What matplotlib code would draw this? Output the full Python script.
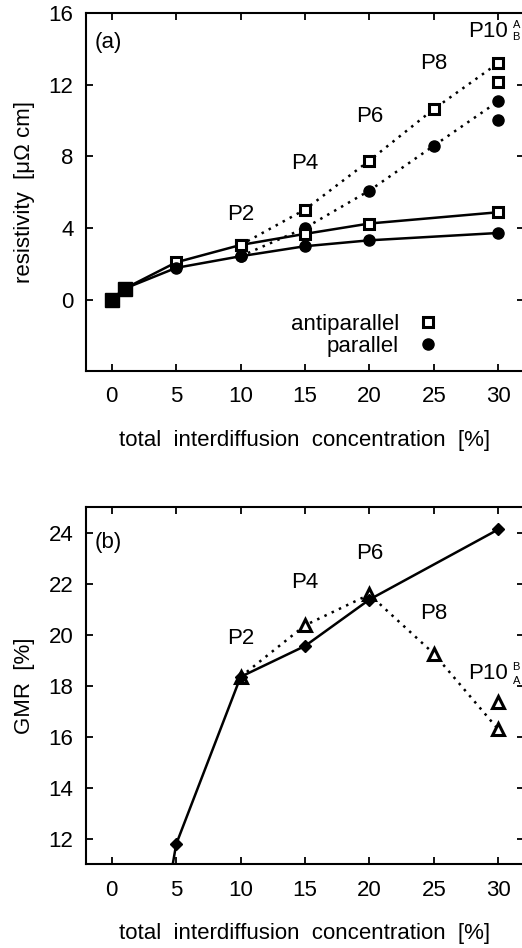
import matplotlib
matplotlib.use('Agg')
import matplotlib.pyplot as plt
from matplotlib.lines import Line2D

plt.rcParams['font.family'] = ['Liberation Sans', 'DejaVu Sans']
plt.rcParams['font.size'] = 16

# (a) resistivity vs total interdiffusion concentration
conc = [0, 1, 5, 10, 15, 20, 30]
rho_ap = [0, 0.61, 2.08, 3.05, 3.67, 4.25, 4.88]
rho_p = [0, 0.61, 1.77, 2.42, 2.98, 3.31, 3.72]

conc_pn = [10, 15, 20, 25, 30]
rho_ap_pn = [3.05, 5.03, 7.77, 10.65, 13.22]
rho_p_pn = [2.42, 4.00, 6.09, 8.60, 11.08]
rho_ap_p10b = 12.15
rho_p_p10b = 10.02

labels_pn = ['P2', 'P4', 'P6', 'P8']
label_y_a = [4.78, 7.58, 10.26, 13.2]

# (b) GMR
conc_gmr = [1, 5, 10, 15, 20, 30]
gmr = [0, 11.79, 18.35, 19.56, 21.38, 24.13]
gmr_pn = [18.35, 20.37, 21.58, 19.26, 16.29]
gmr_p10b = 17.35
label_y_b = [19.85, 22.06, 23.17, 20.83]

xlabel = 'total  interdiffusion  concentration  [%]'
dot = (0, (1, 2.2))


def style_axes(ax):
    for s in ax.spines.values():
        s.set_linewidth(1.5)
    ax.tick_params(direction='in', top=True, right=True, length=5, width=1.3,
                   labelsize=16)
    ax.tick_params(axis='x', pad=11)
    ax.tick_params(axis='y', pad=9)
    ax.set_xlim(-2, 32)
    ax.set_xticks([0, 5, 10, 15, 20, 25, 30])
    ax.set_xlabel(xlabel, labelpad=16)


fig = plt.figure(figsize=(5.22, 9.48), dpi=100)

# ---- panel (a)
ax1 = fig.add_axes([0.1648, 0.6086, 0.839, 0.3773])
style_axes(ax1)
ax1.set_ylim(-4, 16)
ax1.set_yticks([0, 4, 8, 12, 16])
ax1.set_ylabel('resistivity  [μΩ cm]', labelpad=10)

ax1.plot(conc_pn, rho_ap_pn, color='k', ls=dot, lw=1.8, marker='s', ms=7.5,
         mfc='white', mec='k', mew=2.2)
ax1.plot(conc_pn, rho_p_pn, color='k', ls=dot, lw=1.8, marker='o', ms=8,
         mfc='k', mec='k')
ax1.plot(conc, rho_ap, color='k', lw=1.8, marker='s', ms=7.5, mfc='white',
         mec='k', mew=2.2, markevery=range(2, len(conc)))
ax1.plot(conc, rho_p, color='k', lw=1.8, marker='o', ms=8, mfc='k',
         mec='k', markevery=range(2, len(conc)))
ax1.plot(conc[:2], rho_ap[:2], ls='none', marker='s', ms=10, color='k')
ax1.plot([30], [rho_ap_p10b], ls='none', marker='s', ms=7.5, mfc='white',
         mec='k', mew=2.2)
ax1.plot([30], [rho_p_p10b], ls='none', marker='o', ms=8, color='k')

for x, y, t in zip(conc_pn[:4], label_y_a, labels_pn):
    ax1.text(x, y, t, ha='center', va='center')
ax1.text(29.2, 14.98, 'P10', ha='center', va='center')
ax1.text(31.4, 15.35, 'A', ha='center', va='center', fontsize=8)
ax1.text(31.4, 14.7, 'B', ha='center', va='center', fontsize=8)
ax1.text(-1.35, 14.35, '(a)', ha='left', va='center')

handles = [Line2D([], [], ls='none', marker='s', ms=7.5, mfc='white', mec='k', mew=2.2),
           Line2D([], [], ls='none', marker='o', ms=8, color='k')]
ax1.legend(handles, ['antiparallel', 'parallel'], loc='lower right',
           bbox_to_anchor=(0.831, 0.008), frameon=False, markerfirst=False,
           handlelength=1.0, handletextpad=0.8, labelspacing=0.05,
           fontsize=16, borderpad=0)

# ---- panel (b)
ax2 = fig.add_axes([0.1648, 0.0883, 0.839, 0.3766])
style_axes(ax2)
ax2.set_ylim(11, 25)
ax2.set_yticks([12, 14, 16, 18, 20, 22, 24])
ax2.set_ylabel('GMR  [%]', labelpad=10)

ax2.plot(conc_pn, gmr_pn, color='k', ls=dot, lw=1.8, marker='^', ms=8,
         mfc='white', mec='k', mew=2.2)
ax2.plot(conc_gmr, gmr, color='k', lw=1.8, marker='D', ms=6, mfc='k',
         mec='k', markevery=range(1, len(conc_gmr)))
ax2.plot([30], [gmr_p10b], ls='none', marker='^', ms=8, mfc='white',
         mec='k', mew=2.2)

for x, y, t in zip(conc_pn[:4], label_y_b, labels_pn):
    ax2.text(x, y, t, ha='center', va='center')
ax2.text(29.2, 18.48, 'P10', ha='center', va='center')
ax2.text(31.4, 18.75, 'B', ha='center', va='center', fontsize=8)
ax2.text(31.4, 18.2, 'A', ha='center', va='center', fontsize=8)
ax2.text(-1.35, 23.6, '(b)', ha='left', va='center')

fig.savefig('out.png', dpi=100)
